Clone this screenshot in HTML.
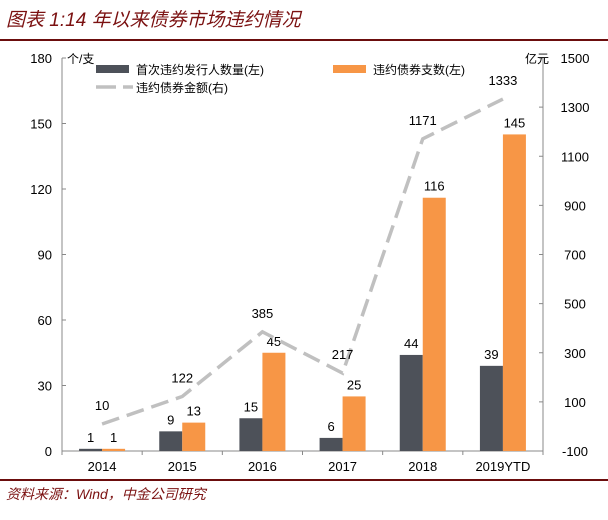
<!DOCTYPE html>
<html><head><meta charset="utf-8"><style>
body{margin:0;background:#fff;width:608px;height:515px;overflow:hidden;font-family:"Liberation Sans","Noto Sans CJK SC",sans-serif}
</style></head><body>
<svg id="c" width="608" height="515" xmlns="http://www.w3.org/2000/svg">
<text x="6" y="26" font-size="19" font-style="italic" fill="#7b1111" font-family="'Liberation Sans','Noto Sans CJK SC',sans-serif">图表 1:14 年以来债券市场违约情况</text>
<line x1="0" y1="40" x2="608" y2="40" stroke="#6b0d0d" stroke-width="2"/>
<line x1="0" y1="480" x2="608" y2="480" stroke="#6b0d0d" stroke-width="2"/>
<text x="6" y="499" font-size="14" font-style="italic" fill="#7b1111">资料来源：Wind，中金公司研究</text>
<g id="plot"></g>
</svg>
<script>
const categories=["2014","2015","2016","2017","2018","2019YTD"];
const issuers=[1,9,15,6,44,39];
const bonds=[1,13,45,25,116,145];
const amount=[10,122,385,217,1171,1333];
const leftTicks=[0,30,60,90,120,150,180];
const rightTicks=[-100,100,300,500,700,900,1100,1300,1500];
const NS="http://www.w3.org/2000/svg";
const g=document.getElementById('plot');
const X0=62,X1=543,Y0=451,Y1=58;
const bw=(X1-X0)/categories.length;
const yL=v=>Y0-(v/180)*(Y0-Y1);
const yR=v=>Y0-((v+100)/1600)*(Y0-Y1);
const cx=i=>X0+bw*(i+0.5);
function el(t,a,txt){const e=document.createElementNS(NS,t);for(const k in a)e.setAttribute(k,a[k]);if(txt!==undefined)e.textContent=txt;g.appendChild(e);return e;}
// axes
let a=el('line',{x1:X0,y1:Y1,x2:X0,y2:Y0,stroke:'#888'});


a=el('line',{x1:X1,y1:Y1,x2:X1,y2:Y0,stroke:'#888'});


a=el('line',{x1:X0,y1:Y0,x2:X1,y2:Y0,stroke:'#888'});


leftTicks.forEach(v=>{const y=yL(v);el('line',{x1:X0,y1:y,x2:X0+4,y2:y,stroke:'#888'});
const t=el('text',{x:X0-10,y:y+5,'text-anchor':'end','font-size':13,fill:'#000'},v);

});
rightTicks.forEach(v=>{const y=yR(v);el('line',{x1:X1-4,y1:y,x2:X1,y2:y,stroke:'#888'});
const t=el('text',{x:X1+32,y:y+5,'text-anchor':'middle','font-size':13,fill:'#000'},v);

});
for(let i=0;i<=categories.length;i++){const x=X0+bw*i;el('line',{x1:x,y1:Y0,x2:x,y2:Y0+4,stroke:'#888'});}
let u=el('text',{x:X0+5,y:Y1+5,'font-size':12},'个/支');


u=el('text',{x:X1-18,y:Y1+5,'font-size':12},'亿元');


const w=23;
categories.forEach((c,i)=>{
 const x=cx(i);
 let t=el('text',{x:x,y:Y0+20,'text-anchor':'middle','font-size':13},c);
 
 
 let r=el('rect',{x:x-w,y:yL(issuers[i]),width:w,height:Y0-yL(issuers[i]),fill:'#4d5159'});
 
 
 r=el('rect',{x:x,y:yL(bonds[i]),width:w,height:Y0-yL(bonds[i]),fill:'#f79646'});
 
 
 t=el('text',{x:x-w/2,y:yL(issuers[i])-7,'text-anchor':'middle','font-size':13},issuers[i]);
 
 
 t=el('text',{x:x+w/2,y:yL(bonds[i])-7,'text-anchor':'middle','font-size':13},bonds[i]);
 
 
});
const pts=amount.map((v,i)=>cx(i)+','+yR(v)).join(' ');
let p=el('polyline',{points:pts,fill:'none',stroke:'#c0c0c0','stroke-width':3.5,'stroke-dasharray':'18,8'});


amount.forEach((v,i)=>{const t=el('text',{x:cx(i),y:yR(v)-14,'text-anchor':'middle','font-size':13},v);

});
// legend
let l=el('rect',{x:96,y:65,width:33,height:8,fill:'#4d5159'});


l=el('text',{x:136,y:74,'font-size':12},'首次违约发行人数量(左)');


l=el('rect',{x:333,y:65,width:33,height:8,fill:'#f79646'});


l=el('text',{x:373,y:74,'font-size':12},'违约债券支数(左)');


l=el('line',{x1:96,y1:87,x2:133,y2:87,stroke:'#c0c0c0','stroke-width':3.5,'stroke-dasharray':'20,7'});


l=el('text',{x:136,y:92,'font-size':12},'违约债券金额(右)');


</script>
</body></html>
